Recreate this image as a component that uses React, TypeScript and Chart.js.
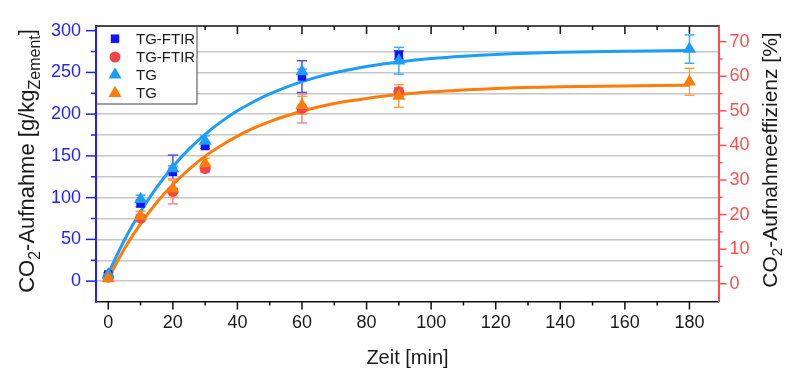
import React, { useEffect, useRef } from 'react';
import { Chart, registerables } from 'chart.js';

Chart.register(...registerables);

// ---- data ----
const timeFTIR = [0, 10, 20, 30, 60, 90];
const timeTG = [0, 10, 20, 30, 60, 90, 180];

const ftirUptake = [8, 93, 131, 162, 245, 271];
const ftirUptakeErr = [2, 4, 20, 3, 19, 5];
const ftirEff = [1.9, 19.0, 26.7, 33.3, 50.7, 55.5];
const ftirEffErr = [0.6, 1.0, 3.6, 1.0, 4.2, 1.2];

const tgUptake = [8, 98, 135, 168, 251, 264, 278];
const tgUptakeErr = [2, 5, 3, 6, 3, 16, 17];
const tgEff = [1.5, 19.5, 27.5, 34.8, 51.6, 54.3, 58.4];
const tgEffErr = [0.6, 1.5, 2.5, 1.5, 2.6, 3.3, 3.9];

const fitTime = [0, 5, 10, 15, 20, 25, 30, 35, 40, 45, 50, 55, 60, 65, 70, 75, 80, 85, 90, 100, 110, 120, 140, 160, 180];
const fitUptake = [9, 49.2, 83.4, 112.4, 137.1, 158.1, 175.9, 191.1, 204.0, 214.9, 224.2, 232.1, 238.9, 244.6, 249.5, 253.6, 257.1, 260.1, 262.6, 266.6, 269.5, 271.6, 274.2, 275.5, 276.2];
const fitEff = [1.5, 10.1, 17.3, 23.5, 28.7, 33.1, 36.9, 40.0, 42.7, 45.0, 46.9, 48.5, 49.9, 51.1, 52.1, 52.9, 53.6, 54.2, 54.7, 55.5, 56.0, 56.5, 57.0, 57.2, 57.4];

const xTickLabels = [0, 20, 40, 60, 80, 100, 120, 140, 160, 180];
const leftTickLabels = [0, 50, 100, 150, 200, 250, 300];
const rightTickLabels = [0, 10, 20, 30, 40, 50, 60, 70];

const legendLabels = ['TG-FTIR', 'TG-FTIR', 'TG', 'TG'];

// ---- styles ----
const C_SQ = '#1212f2';
const C_SQ_ERR = '#5050ff';
const C_CI = '#f04646';
const C_CI_ERR = '#f08a8a';
const C_TB = '#1c9ef8';
const C_TB_ERR = '#3aacff';
const C_OR = '#ff7c0a';
const C_OR_ERR = '#ffa048';
const C_LEFT = '#1f1fff';
const C_RIGHT = '#ff4d4d';
const FONT = '"Liberation Sans", Arial, sans-serif';

const pts = (xs: number[], ys: number[]) => xs.map((x, i) => ({ x, y: ys[i] }));

const errorSets = [
  { xs: timeFTIR, ys: ftirUptake, es: ftirUptakeErr, color: C_SQ_ERR, axis: 'y' },
  { xs: timeFTIR, ys: ftirEff, es: ftirEffErr, color: C_CI_ERR, axis: 'y1' },
  { xs: timeTG, ys: tgUptake, es: tgUptakeErr, color: C_TB_ERR, axis: 'y' },
  { xs: timeTG, ys: tgEff, es: tgEffErr, color: C_OR_ERR, axis: 'y1' },
];

function line(ctx: CanvasRenderingContext2D, x1: number, y1: number, x2: number, y2: number) {
  ctx.beginPath();
  ctx.moveTo(x1, y1);
  ctx.lineTo(x2, y2);
  ctx.stroke();
}

type Part = { t: string; sub?: boolean };
function drawRich(ctx: CanvasRenderingContext2D, parts: Part[], size: number, subSize: number) {
  const widths = parts.map((p) => {
    ctx.font = `${p.sub ? subSize : size}px ${FONT}`;
    return ctx.measureText(p.t).width;
  });
  const total = widths.reduce((a, b) => a + b, 0);
  let x = -total / 2;
  ctx.textBaseline = 'alphabetic';
  ctx.textAlign = 'left';
  parts.forEach((p, i) => {
    ctx.font = `${p.sub ? subSize : size}px ${FONT}`;
    ctx.fillText(p.t, x, p.sub ? size * 0.28 : 0);
    x += widths[i];
  });
}

const errorBarPlugin = {
  id: 'errorBars',
  beforeDatasetsDraw(chart: any) {
    const { ctx, scales } = chart;
    const xs = scales.x;
    ctx.save();
    ctx.lineWidth = 1.5;
    errorSets.forEach((s) => {
      const ys = scales[s.axis];
      ctx.strokeStyle = s.color;
      s.xs.forEach((t, i) => {
        const px = xs.getPixelForValue(t);
        const top = ys.getPixelForValue(s.ys[i] + s.es[i]);
        const bot = ys.getPixelForValue(s.ys[i] - s.es[i]);
        line(ctx, px, top, px, bot);
        line(ctx, px - 5, top, px + 5, top);
        line(ctx, px - 5, bot, px + 5, bot);
      });
    });
    ctx.restore();
  },
};

const decorPlugin = {
  id: 'decor',
  afterDraw(chart: any) {
    const { ctx, chartArea: ca, scales } = chart;
    const xs = scales.x;
    const yl = scales.y;
    const yr = scales.y1;
    ctx.save();
    // top frame
    ctx.strokeStyle = '#111';
    ctx.lineWidth = 1.5;
    line(ctx, ca.left, ca.top, ca.right, ca.top);
    // x ticks (bottom outward, top inward)
    xs.ticks.forEach((t: any) => {
      if (t.value < 0 || t.value > 180) return;
      const px = xs.getPixelForValue(t.value);
      const major = xTickLabels.includes(t.value);
      const len = major ? 8 : 4;
      line(ctx, px, ca.bottom, px, ca.bottom + len);
      line(ctx, px, ca.top, px, ca.top + len);
    });
    // left ticks
    ctx.strokeStyle = C_LEFT;
    yl.ticks.forEach((t: any) => {
      if (t.value < 0 || t.value > 300) return;
      const py = yl.getPixelForValue(t.value);
      const major = leftTickLabels.includes(t.value);
      line(ctx, ca.left - (major ? 10 : 5), py, ca.left, py);
    });
    // right ticks
    ctx.strokeStyle = C_RIGHT;
    yr.ticks.forEach((t: any) => {
      if (t.value < 0 || t.value > 70) return;
      const py = yr.getPixelForValue(t.value);
      const major = rightTickLabels.includes(t.value);
      line(ctx, ca.right, py, ca.right + (major ? 8 : 4), py);
    });

    // axis titles
    ctx.fillStyle = '#1a1a1a';
    ctx.save();
    ctx.translate(33.5, 161);
    ctx.rotate(-Math.PI / 2);
    drawRich(
      ctx,
      [{ t: 'CO' }, { t: '2', sub: true }, { t: '-Aufnahme [g/kg' }, { t: 'Zement', sub: true }, { t: ']' }],
      22,
      16
    );
    ctx.restore();
    ctx.save();
    ctx.translate(776.5, 160);
    ctx.rotate(-Math.PI / 2);
    drawRich(ctx, [{ t: 'CO' }, { t: '2', sub: true }, { t: '-Aufnahmeeffizienz [%]' }], 21, 15);
    ctx.restore();
    ctx.save();
    ctx.translate(407.5, 364);
    drawRich(ctx, [{ t: 'Zeit [min]' }], 20, 14);
    ctx.restore();

    // legend box
    const lx = ca.left;
    const ly = ca.top;
    ctx.fillStyle = '#ffffff';
    ctx.fillRect(lx, ly, 101, 78);
    ctx.strokeStyle = '#444';
    ctx.lineWidth = 1;
    ctx.strokeRect(lx + 0.5, ly + 0.5, 100.5, 77.5);
    ctx.strokeStyle = C_LEFT;
    ctx.lineWidth = 2;
    line(ctx, ca.left, ca.top, ca.left, ly + 78);
    const rows = [12.7, 31, 48.7, 67.3];
    const mx = lx + 19;
    const styles = [
      { style: 'rect', color: C_SQ, r: 6 },
      { style: 'circle', color: C_CI, r: 5.5 },
      { style: 'triangle', color: C_TB, r: 7.5 },
      { style: 'triangle', color: C_OR, r: 7.5 },
    ];
    styles.forEach((s, i) => {
      const y = ly + rows[i];
      ctx.fillStyle = s.color;
      if (s.style === 'rect') {
        const side = s.r * Math.SQRT2;
        ctx.fillRect(mx - side / 2, y - side / 2, side, side);
      } else if (s.style === 'circle') {
        ctx.beginPath();
        ctx.arc(mx, y, s.r, 0, Math.PI * 2);
        ctx.fill();
      } else {
        ctx.beginPath();
        for (let k = 0; k < 3; k++) {
          const a = (k * 2 * Math.PI) / 3;
          const px = mx + Math.sin(a) * s.r;
          const py = y - Math.cos(a) * s.r;
          if (k === 0) ctx.moveTo(px, py);
          else ctx.lineTo(px, py);
        }
        ctx.closePath();
        ctx.fill();
      }
      ctx.fillStyle = '#1a1a1a';
      ctx.font = `15px ${FONT}`;
      ctx.textAlign = 'left';
      ctx.textBaseline = 'middle';
      ctx.fillText(legendLabels[i], lx + 40, y + 1);
    });
    ctx.restore();
  },
};

export default function App() {
  const ref = useRef<HTMLCanvasElement | null>(null);

  useEffect(() => {
    if (!ref.current) return;
    const chart = new Chart(ref.current, {
      type: 'scatter',
      data: {
        datasets: [
          {
            label: 'TG',
            data: pts(timeTG, tgEff),
            yAxisID: 'y1',
            pointStyle: 'triangle',
            pointRadius: 7.5,
            backgroundColor: C_OR,
            borderWidth: 0,
            order: 0,
          },
          {
            label: 'TG',
            data: pts(timeTG, tgUptake),
            yAxisID: 'y',
            pointStyle: 'triangle',
            pointRadius: 7.5,
            backgroundColor: C_TB,
            borderWidth: 0,
            order: 1,
          },
          {
            label: 'TG-FTIR',
            data: pts(timeFTIR, ftirEff),
            yAxisID: 'y1',
            pointStyle: 'circle',
            pointRadius: 5.5,
            backgroundColor: C_CI,
            borderWidth: 0,
            order: 2,
          },
          {
            label: 'TG-FTIR',
            data: pts(timeFTIR, ftirUptake),
            yAxisID: 'y',
            pointStyle: 'rect',
            pointRadius: 6,
            backgroundColor: C_SQ,
            borderWidth: 0,
            order: 3,
          },
          {
            label: 'fit TG eff',
            data: pts(fitTime, fitEff),
            yAxisID: 'y1',
            showLine: true,
            pointRadius: 0,
            borderColor: C_OR,
            borderWidth: 3,
            cubicInterpolationMode: 'monotone',
            order: 4,
          },
          {
            label: 'fit TG uptake',
            data: pts(fitTime, fitUptake),
            yAxisID: 'y',
            showLine: true,
            pointRadius: 0,
            borderColor: C_TB,
            borderWidth: 3,
            cubicInterpolationMode: 'monotone',
            order: 5,
          },
        ],
      },
      options: {
        responsive: false,
        animation: false,
        devicePixelRatio: 1,
        layout: { padding: { top: 26, left: 0, right: 0, bottom: 0 } },
        plugins: { legend: { display: false }, tooltip: { enabled: false } },
        scales: {
          x: {
            type: 'linear',
            min: -3.8,
            max: 189,
            afterFit: (s: any) => {
              s.height = 88.5;
            },
            border: { display: true, color: '#111', width: 1.5 },
            grid: { display: false, drawTicks: false },
            ticks: {
              stepSize: 10,
              includeBounds: false,
              autoSkip: false,
              maxRotation: 0,
              padding: 11,
              color: '#1a1a1a',
              font: { family: FONT, size: 18 },
              callback: (v: any) => (xTickLabels.includes(v) ? String(v) : ''),
            },
          },
          y: {
            type: 'linear',
            position: 'left',
            min: -24.4,
            max: 305.6,
            afterFit: (s: any) => {
              s.width = 96;
            },
            border: { display: true, color: C_LEFT, width: 2 },
            grid: {
              drawTicks: false,
              lineWidth: 1.5,
              color: (c: any) => (c.tick && c.tick.value >= 0 && c.tick.value < 300 ? '#c6c6c6' : 'rgba(0,0,0,0)'),
            },
            ticks: {
              stepSize: 25,
              includeBounds: false,
              autoSkip: false,
              padding: 15,
              color: C_LEFT,
              font: { family: FONT, size: 18 },
              callback: (v: any) => (leftTickLabels.includes(v) ? String(v) : ''),
            },
          },
          y1: {
            type: 'linear',
            position: 'right',
            min: -5.13,
            max: 74.54,
            afterFit: (s: any) => {
              s.width = 81.5;
            },
            border: { display: true, color: C_RIGHT, width: 2 },
            grid: { drawOnChartArea: false, drawTicks: false },
            ticks: {
              stepSize: 5,
              includeBounds: false,
              autoSkip: false,
              padding: 11,
              color: C_RIGHT,
              font: { family: FONT, size: 18 },
              callback: (v: any) => (rightTickLabels.includes(v) ? String(v) : ''),
            },
          },
        },
      } as any,
      plugins: [errorBarPlugin, decorPlugin],
    });
    return () => chart.destroy();
  }, []);

  return (
    <div style={{ position: 'absolute', left: 0, top: 0, width: 800, height: 390, background: '#fff' }}>
      <canvas ref={ref} width={800} height={390} />
    </div>
  );
}
